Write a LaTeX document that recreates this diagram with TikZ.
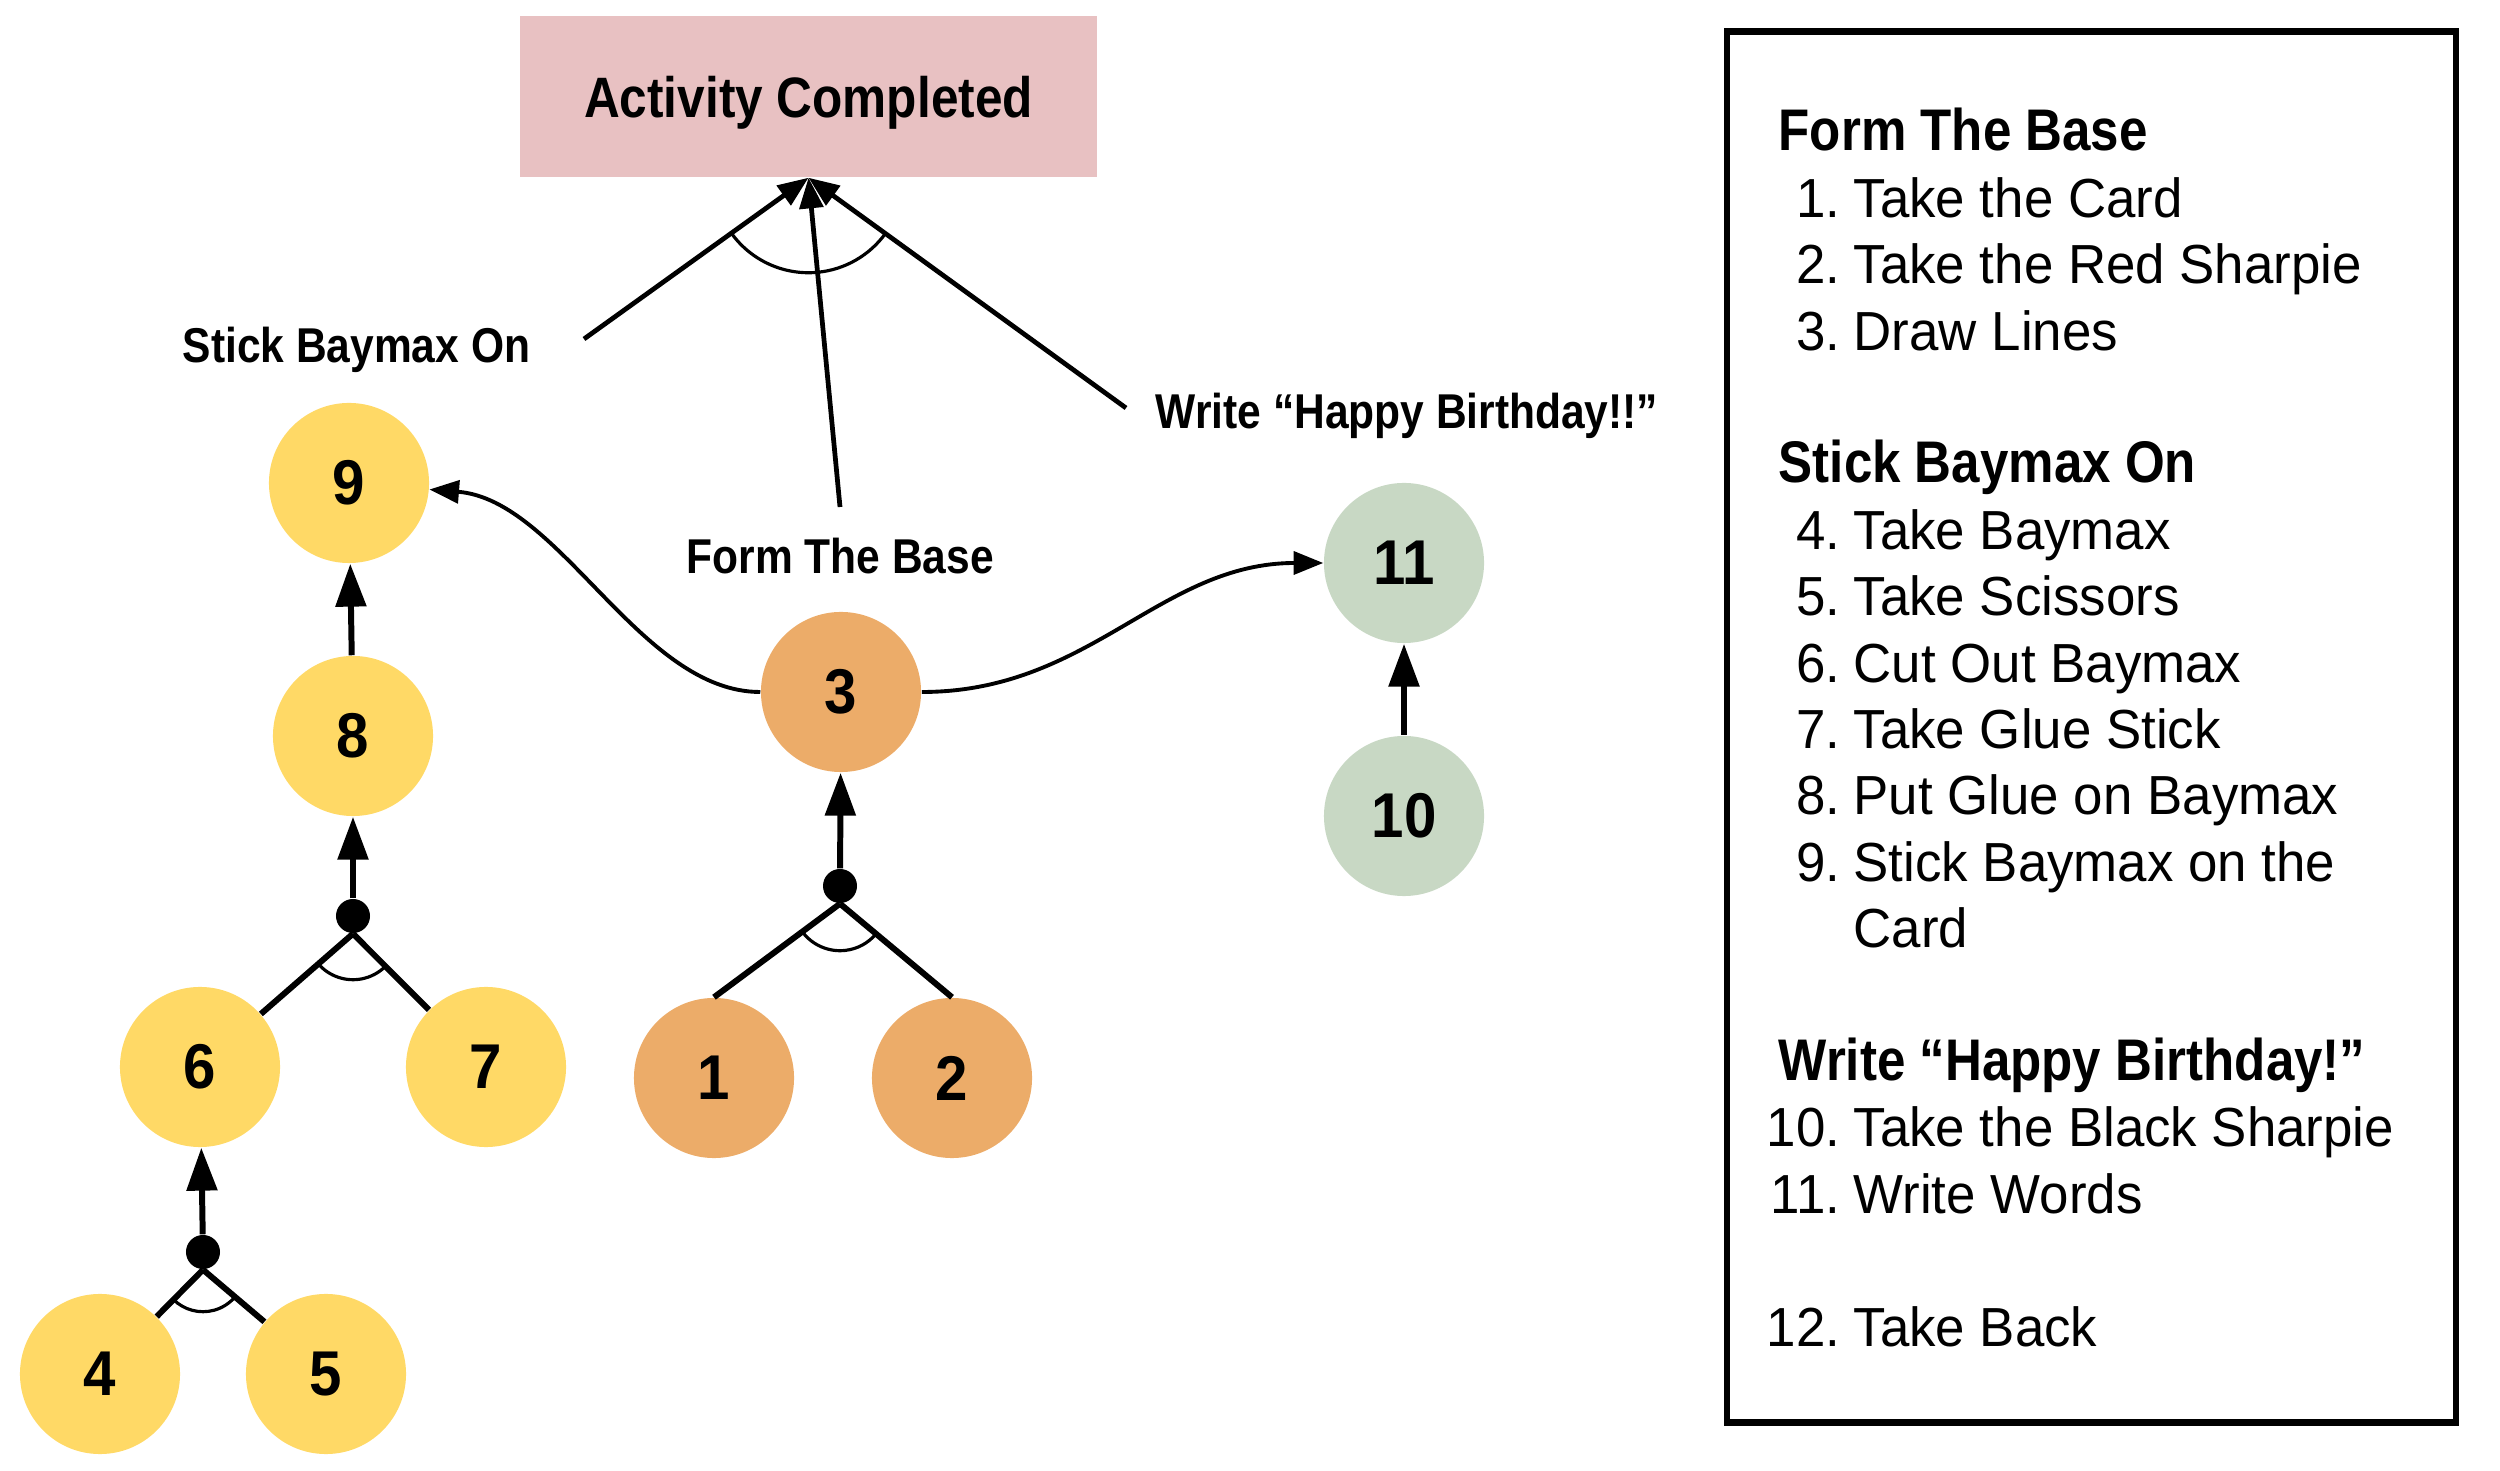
\documentclass[tikz,border=0pt]{standalone}
\usepackage{fontspec}
\setmainfont{Liberation Sans}
\newfontfamily\rgfont{Liberation Sans}[FakeStretch=0.96]
\newfontfamily\bdfont{Liberation Sans}[FakeStretch=0.87]
\newfontfamily\digfont{Liberation Sans}[FakeStretch=0.92]
\usetikzlibrary{arrows.meta}
\definecolor{nyellow}{HTML}{FFD966}
\definecolor{norange}{HTML}{ECAC69}
\definecolor{ngreen}{HTML}{C8D8C4}
\definecolor{boxpink}{HTML}{E8C1C2}
\begin{document}
\begin{tikzpicture}[x=0.01cm, y=-0.01cm,
  circ/.style={circle, minimum size=1.6cm, inner sep=0pt, font={\digfont\bfseries\fontsize{18pt}{21pt}\selectfont}},
  ynode/.style={circ, fill=nyellow},
  onode/.style={circ, fill=norange},
  gnode/.style={circ, fill=ngreen},
  junc/.style={circle, fill=black, minimum size=0.34cm, inner sep=0pt},
  treearr/.style={line width=1.7pt, -{Triangle[length=12.2pt,width=8.5pt]}},
  treeline/.style={line width=1.7pt},
  toparr/.style={line width=1.35pt, -{Triangle[length=8.7pt,width=6.7pt]}},
  curvarr/.style={line width=1.1pt, -{Triangle[length=8.4pt,width=6.5pt]}},
  andarc/.style={line width=0.9pt},
  lbl/.style={anchor=base west, inner sep=0pt, font={\bdfont\bfseries\fontsize{13.9pt}{16pt}\selectfont}},
  leghead/.style={anchor=base west, inner sep=0pt, font={\bdfont\bfseries\fontsize{16.7pt}{19pt}\selectfont}},
  legnum/.style={anchor=base east, inner sep=0pt, font={\rgfont\fontsize{15.65pt}{18pt}\selectfont}},
  legtxt/.style={anchor=base west, inner sep=0pt, font={\rgfont\fontsize{15.65pt}{18pt}\selectfont}}
]
\useasboundingbox (0,0) rectangle (2500,1471);

% goal box
\node[fill=boxpink, minimum width=5.77cm, minimum height=1.61cm, inner sep=0pt, text depth=0pt,
      font={\bdfont\bfseries\fontsize{16.2pt}{19pt}\selectfont}] (act) at (808.5,96.5) {Activity Completed};

% circles
\node[ynode] (n9) at (349,483) {9};
\node[ynode] (n8) at (353,736) {8};
\node[ynode] (n6) at (200,1067) {6};
\node[ynode] (n7) at (486,1067) {7};
\node[ynode] (n4) at (100,1374) {4};
\node[ynode] (n5) at (326,1374) {5};
\node[onode] (n3) at (841,692) {3};
\node[onode] (n1) at (714,1078) {1};
\node[onode] (n2) at (952,1078) {2};
\node[gnode] (n11) at (1404,563) {11};
\node[gnode] (n10) at (1404,816) {10};

% junction dots
\node[junc] (j8) at (353,916) {};
\node[junc] (j6) at (203,1252) {};
\node[junc] (j3) at (840,886) {};

% labels
\node[lbl] (lstick) at (182,363) {Stick Baymax On};
\node[lbl] (lform) at (686,574) {Form The Base};
\node[lbl] (lwrite) at (1155,429) {Write “Happy Birthday!!”};

% free ends of top connectors
\coordinate (sL) at (584,339);
\coordinate (sM) at (840,507);
\coordinate (sR) at (1126,408);

% top connectors
\draw[toparr] (sL) -- (act.south);
\draw[toparr] (sM) -- (act.south);
\draw[toparr] (sR) -- (act.south);
\draw[andarc] (act.south) ++(144.3:95) arc[start angle=144.3, end angle=35.9, radius=95];

% tree connectors
\draw[treearr] (n8) -- (n9);
\draw[treearr] (j8) -- (n8);
\draw[treeline] (j8.south) -- (n6);
\draw[treeline] (j8.south) -- (n7);
\draw[andarc] (j8.south) ++(138.6:46) arc[start angle=138.6, end angle=45.4, radius=46];

\draw[treearr] (j6) -- (n6);
\draw[treeline] (j6.south) -- (n4);
\draw[treeline] (j6.south) -- (n5);
\draw[andarc] (j6.south) ++(134.7:42) arc[start angle=134.7, end angle=40.2, radius=42];

\draw[treearr] (j3) -- (n3);
\draw[treeline] (j3.south) -- (n1.north);
\draw[treeline] (j3.south) -- (n2.north);
\draw[andarc] (j3.south) ++(143.6:47) arc[start angle=143.6, end angle=39.7, radius=47];

\draw[treearr] (n10) -- (n11);

% curved connectors
\draw[curvarr] (n3) .. controls (640,692) and (560,500) .. (n9);
\draw[curvarr] (n3) .. controls (1090,692) and (1160,563) .. (n11);

% legend
\node[draw, line width=1.8pt, minimum width=7.29cm, minimum height=13.9cm, inner sep=0pt] (legend) at (2091.5,727) {};
\node[leghead] (h1) at (1778,151) {Form The Base};
\node[leghead] (h2) at (1778,483) {Stick Baymax On};
\node[leghead] (h3) at (1778,1080.6) {Write “Happy Birthday!”};
\foreach \k/\lnum/\ltxt [count=\i] in {1/1./Take the Card, 2/2./Take the Red Sharpie, 3/3./Draw Lines,
   6/4./Take Baymax, 7/5./Take Scissors, 8/6./Cut Out Baymax, 9/7./Take Glue Stick,
   10/8./Put Glue on Baymax, 11/9./Stick Baymax on the, 15/10./Take the Black Sharpie,
   16/11./Write Words, 18/12./Take Back}{
  \node[legnum] (num\i) at (1841,{151+66.4*\k}) {\lnum};
  \node[legtxt] (txt\i) at (1853,{151+66.4*\k}) {\ltxt};
}
\node[legtxt] (txtcard) at (1853,{151+66.4*12}) {Card};
\end{tikzpicture}
\end{document}
